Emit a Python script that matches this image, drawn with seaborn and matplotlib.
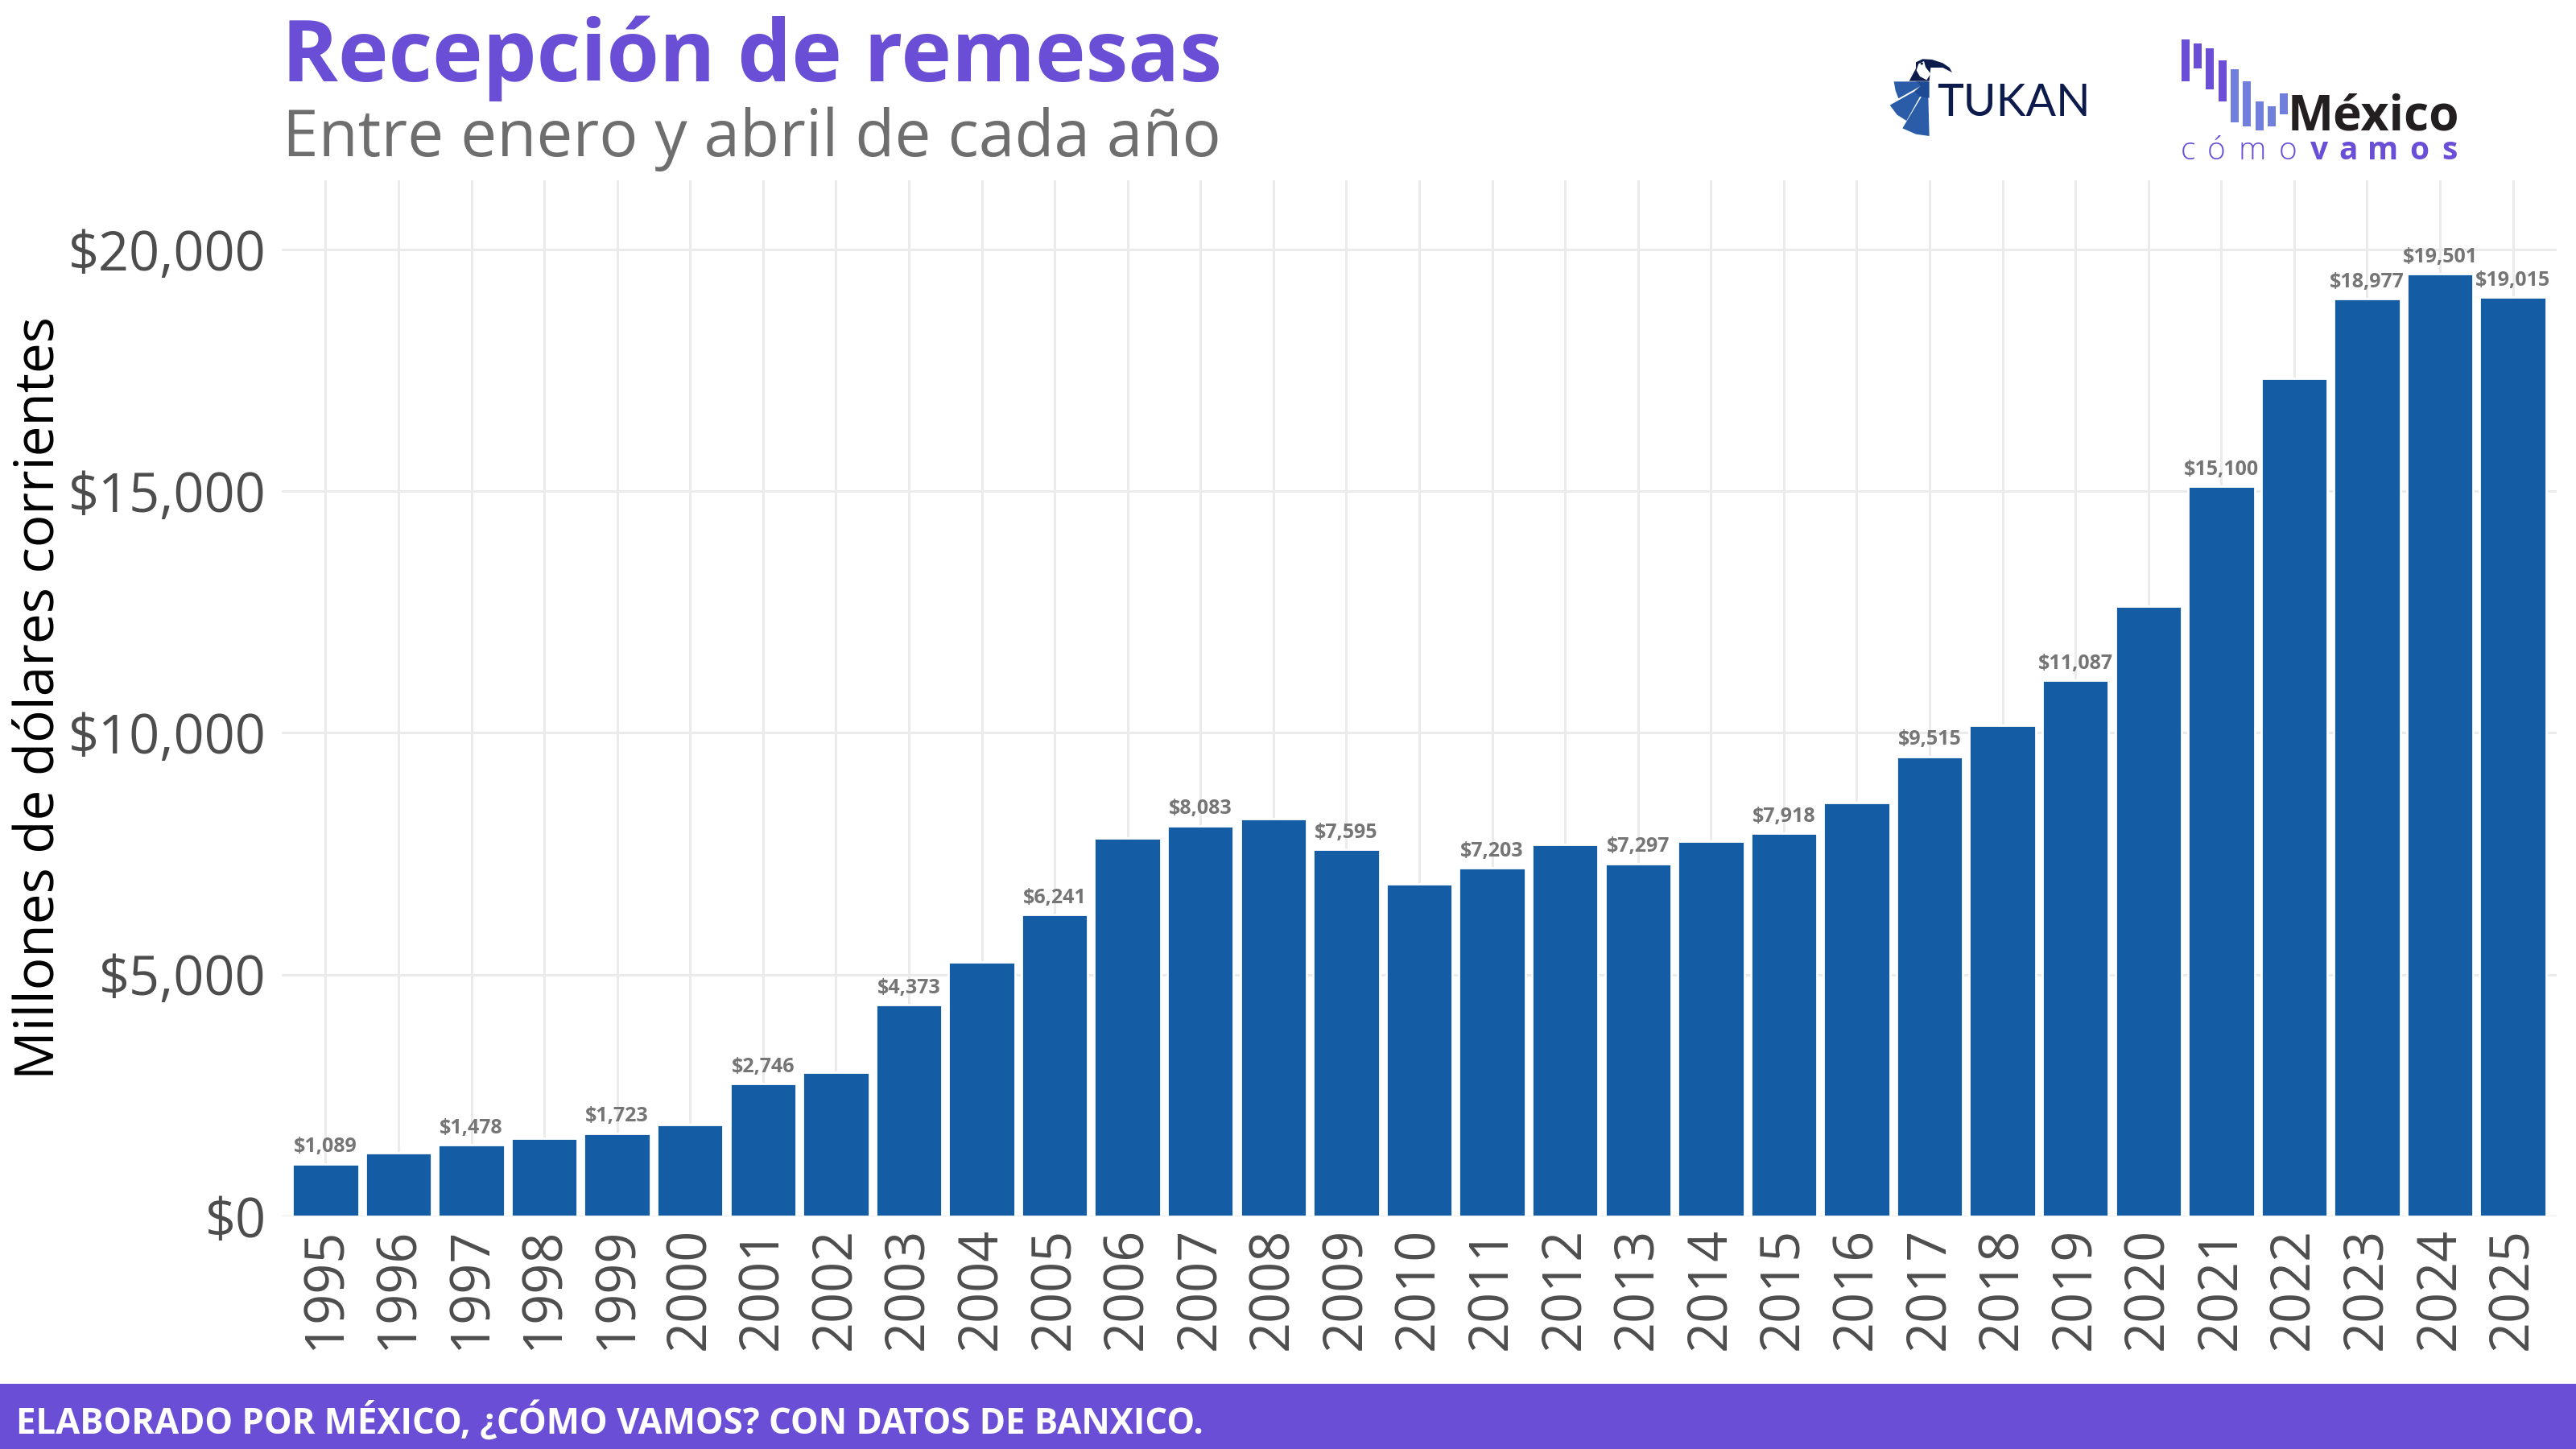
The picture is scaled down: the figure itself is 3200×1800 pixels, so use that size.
import matplotlib
matplotlib.use("Agg")
import matplotlib.pyplot as plt
import numpy as np
import pandas as pd
import seaborn as sns
from matplotlib.patches import Rectangle, Polygon, Circle

years = list(range(1995, 2026))
remesas = [1089, 1322, 1478, 1611, 1723, 1895, 2746, 2985, 4373, 5265, 6241, 7820,
           8083, 8225, 7595, 6870, 7203, 7685, 7297, 7755, 7918, 8565, 9515, 10165,
           11087, 12615, 15100, 17330, 18977, 19501, 19015]
labeled_years = [1995, 1997, 1999, 2001, 2003, 2005, 2007, 2009, 2011, 2013, 2015,
                 2017, 2019, 2021, 2023, 2024, 2025]
yticks = [0, 5000, 10000, 15000, 20000]

title = "Recepción de remesas"
subtitle = "Entre enero y abril de cada año"
ylabel = "Millones de dólares corrientes"
footer = "ELABORADO POR MÉXICO, ¿CÓMO VAMOS? CON DATOS DE BANXICO."

PURPLE = "#6a4fd6"
BLUE = "#145da5"
W, H = 3200, 1800

sns.set_theme(style="white")
plt.rcParams['font.family'] = ['Open Sans', 'DejaVu Sans']

df = pd.DataFrame({"year": [str(y) for y in years], "valor": remesas})

fig = plt.figure(figsize=(16, 9), dpi=200)
# plot area, in pixels of the final picture
left, right, top, bottom = 350, 3176, 224, 1511
ax = fig.add_axes([left / W, 1 - bottom / H, (right - left) / W, (bottom - top) / H])
sns.barplot(data=df, x="year", y="valor", color=BLUE, saturation=1, width=0.91, ax=ax, zorder=3)

ax.set_xlim(-0.6, 30.6)
ax.set_ylim(0, 21430)
ax.set_yticks(yticks)
ax.set_yticklabels(["$" + format(v, ",") for v in yticks])
ax.grid(True, color="#ebebeb", lw=1.1, zorder=0)
ax.set_axisbelow(True)
sns.despine(ax=ax, left=True, bottom=True, top=True, right=True)
ax.tick_params(axis='y', labelsize=24, labelcolor="#4d4d4d", length=0, pad=7)
ax.tick_params(axis='x', labelsize=24, labelcolor="#4d4d4d", length=0, pad=5, rotation=90)
ax.set_xlabel("")
ax.set_ylabel("")

bar_labels = ["$" + format(v, ",") if y in labeled_years else "" for y, v in zip(years, remesas)]
ax.bar_label(ax.containers[0], labels=bar_labels, fontsize=9, fontweight='bold',
             color="#757575", padding=3, zorder=4)

# overlay in pixel coordinates for the header, footer and logos
ov = fig.add_axes([0, 0, 1, 1], zorder=10)
ov.set_xlim(0, W)
ov.set_ylim(H, 0)
ov.axis("off")
ov.patch.set_alpha(0)

ov.text(350, 101, title, fontsize=38.15, fontweight='bold', color=PURPLE, va='baseline')
ov.text(351, 194, subtitle, fontsize=28.9, color="#6e6e6e", va='baseline')
ov.text(49, 867, ylabel, fontsize=24.3, color="black", rotation=90, ha='center', va='center')

ov.add_patch(Rectangle((0, 1719), W, 81, color=PURPLE, lw=0))
ov.text(20, 1767, footer, fontsize=15.75, fontweight='bold', color="white", va='center')

# México, ¿cómo vamos? logo
logo_x = [2710, 2725, 2740, 2756, 2771, 2786, 2802, 2817, 2832]
logo_top = [49, 54, 60, 75, 86, 101, 126, 132, 116]
logo_bot = [101, 85, 111, 126, 152, 157, 162, 157, 142]
logo_col = ["#6a4fd6"] * 4 + ["#707edc"] * 5
for x, t, b, c in zip(logo_x, logo_top, logo_bot, logo_col):
    ov.add_patch(Rectangle((x, t), 9.6, b - t, color=c, lw=0))
ov.text(2842, 162, "México", fontsize=21.8, fontweight='bold', color="#231f20", va='baseline')
for ch, x, fw in zip("cómovamos", [2718, 2753, 2798, 2842, 2881, 2917, 2960, 3005, 3043],
                     ['light'] * 4 + ['bold'] * 5):
    ov.text(x, 198, ch, fontsize=14, fontweight=fw, color=PURPLE, ha='center', va='baseline')


def crop_poly(pts, color):
    ov.add_patch(Polygon([(2330 + px / 3, 60 + py / 3) for px, py in pts], closed=True,
                         facecolor=color, edgecolor="none"))


crop_poly([(68, 124), (198, 124), (85, 187), (74, 158)], "#2a5ca8")
crop_poly([(53, 212), (190, 135), (115, 270), (80, 248)], "#2a5ca8")
crop_poly([(100, 298), (195, 140), (200, 327), (150, 320)], "#2a5ca8")
crop_poly([(150, 124), (200, 124), (200, 185), (165, 180), (145, 160), (168, 140)], "#1d4a94")
crop_poly([(125, 122), (150, 75), (150, 52), (175, 40), (210, 42), (250, 55), (275, 72), (285, 90),
           (250, 72), (205, 72), (200, 122)], "#0d1b4c")
crop_poly([(160, 58), (180, 48), (186, 70), (205, 95), (190, 118), (165, 105), (152, 82)], "white")
ov.add_patch(Circle((2330 + 172 / 3, 60 + 57 / 3), 1.6, color="#0d1b4c", lw=0))
ov.text(2406, 144, "TUKAN", fontsize=20, family=['Lato', 'DejaVu Sans'],
        color="#0d1b4c", va='baseline')

fig.savefig("out.png", dpi=200, facecolor="white")
